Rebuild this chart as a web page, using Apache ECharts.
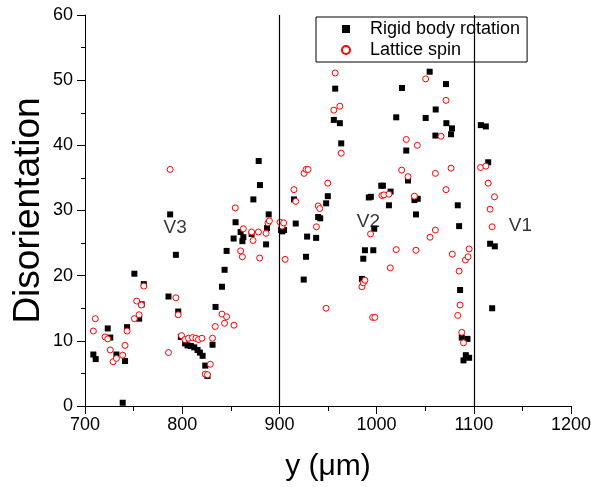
<!DOCTYPE html>
<html>
<head>
<meta charset="utf-8">
<script src="https://cdn.jsdelivr.net/npm/echarts@6/dist/echarts.min.js"></script>
<style>html,body{margin:0;padding:0;background:#fff}#c{width:591px;height:487px}</style>
</head>
<body>
<div id="c"></div>
<script>
// Rigid body rotation: [y (µm), disorientation]
const rigidBody = [[708.6,7.9],[711,7.2],[723.4,11.9],[726,10.5],[732.3,7.9],[741.2,6.9],[738.8,0.5],[743.3,12.1],[750.8,20.3],[755.7,13.4],[760.5,18.7],[758.3,15.6],[785.9,16.8],[787.6,29.4],[793.5,23.2],[795.9,14.5],[798.6,10.6],[803,9.6],[805.5,9.3],[809,9.2],[812.4,9.0],[815.8,8.6],[818.2,8.2],[821,7.7],[823.7,6.2],[826,4.6],[831.2,9.4],[834.3,15.2],[840.9,18.3],[843.6,20.9],[845.7,23.8],[852.9,25.7],[854.9,28.2],[860.1,26.7],[862.9,25.9],[861.9,25.3],[871.4,26.4],[873.2,31.7],[878.7,37.6],[880,33.9],[886.3,24.8],[887.3,27.3],[889,29.4],[901.7,27.0],[903,26.8],[904.8,27.0],[916.8,28.0],[915,31.7],[925,19.4],[927.4,22.9],[928.5,26.0],[937.8,25.8],[939.9,29.0],[942,28.8],[948.1,31.1],[949.8,32.2],[956,43.9],[957.4,48.7],[962.2,43.4],[963.6,40.3],[984.9,19.5],[986.3,22.6],[988,23.9],[992,32.0],[994.1,32.1],[996.6,23.9],[997.6,27.2],[1004.8,33.8],[1006.5,33.8],[1012.7,30.8],[1014.4,32.9],[1020.2,44.3],[1026.1,48.8],[1030.5,39.2],[1032.3,34.6],[1038.9,31.6],[1040.5,29.4],[1042.3,31.8],[1050.5,44.2],[1054.6,51.3],[1060.8,45.5],[1060.5,41.5],[1071.4,49.4],[1071.8,43.4],[1077.6,42.6],[1076.6,41.7],[1083.5,30.8],[1084.9,27.6],[1085.9,17.8],[1087.6,10.5],[1093.5,10.3],[1091.8,7.8],[1095.2,7.4],[1089.4,7.0],[1107.2,43.1],[1112.4,42.9],[1114.8,37.4],[1116.8,24.9],[1121.6,24.5],[1118.9,15.0]];

// Lattice spin: [y (µm), disorientation]
const latticeSpin = [[708.6,11.5],[710.6,13.4],[720.6,10.6],[723.4,10.3],[726,8.6],[728.9,6.8],[732.3,7.3],[738.8,7.8],[741.2,9.3],[743.3,11.5],[750.8,13.4],[753.2,16.1],[755.7,14.0],[758,15.5],[760.5,18.4],[785.9,8.2],[787.6,36.3],[793.5,16.6],[795.9,14.0],[799.3,10.8],[802.8,10.2],[806.5,10.4],[810.6,10.5],[814.1,10.4],[816.8,10.2],[820.3,10.4],[823.7,4.9],[826,4.8],[828.9,6.4],[831.2,10.4],[834,12.2],[840.9,14.1],[843.6,12.7],[845.7,13.7],[853.3,12.4],[854.6,30.4],[860.1,23.8],[861.9,22.9],[862.9,27.2],[871.4,26.7],[872.9,25.4],[878.4,26.7],[879.7,22.7],[886.3,26.5],[888.3,28.1],[889.7,28.4],[900.7,28.2],[902.7,27.6],[904.4,28.1],[905.9,22.5],[915,33.2],[916.8,31.4],[925.4,35.7],[927.4,36.3],[929.5,36.3],[938.1,27.5],[939.9,30.7],[941.5,30.3],[948,15.0],[949.8,34.2],[956,45.4],[957.4,51.1],[962.2,46.0],[963.6,38.8],[984.9,18.3],[986.3,18.9],[988,19.3],[993.8,26.4],[995.9,13.6],[998.2,13.6],[1005.5,32.3],[1007.5,32.4],[1012.7,32.5],[1014.1,21.2],[1020.2,24.0],[1025.8,36.2],[1030.5,40.9],[1032.3,35.2],[1038.9,32.2],[1040.5,23.9],[1041.9,40.0],[1050.5,50.2],[1055,25.9],[1060.5,35.7],[1060.5,27.0],[1066.3,41.4],[1071.4,46.9],[1071.4,33.2],[1076.6,36.5],[1077.9,23.3],[1083.5,13.9],[1084.9,20.7],[1085.9,15.5],[1087.6,11.3],[1089.4,9.7],[1091.4,22.4],[1094.1,22.9],[1095.2,24.1],[1106.9,36.6],[1112.4,36.8],[1114.8,34.2],[1116.8,30.2],[1118.9,27.5],[1121.3,32.1]];

// Vertical boundary lines (x positions)
const boundaries = [900, 1100];

// Region annotations
const regionNames = ['V3', 'V2', 'V1'];
const regionPos = [[792.7, 27.3], [991.5, 28.2], [1148, 27.6]];

const seriesNames = ['Rigid body rotation', 'Lattice spin'];
const xTicks = {min: 700, max: 1200, interval: 100};
const yTicks = {min: 0, max: 60, interval: 10};

const FONT = '"Liberation Sans", Arial, sans-serif';
const chart = echarts.init(document.getElementById('c'), null, {renderer: 'canvas'});

chart.setOption({
  animation: false,
  backgroundColor: '#fff',
  grid: {left: 85, right: 20, top: 15, bottom: 81, containLabel: false, outerBoundsMode: 'none'},
  legend: {
    data: seriesNames,
    orient: 'vertical',
    left: 316, top: 17,
    backgroundColor: '#fff',
    borderColor: '#000',
    borderWidth: 1,
    padding: [3, 7, 3, 25],
    itemGap: 3,
    itemWidth: 8, itemHeight: 8,
    textStyle: {fontFamily: FONT, fontSize: 18, color: '#000', padding: [0, 0, 0, 15]}
  },
  xAxis: {
    type: 'value', min: xTicks.min, max: xTicks.max, interval: xTicks.interval,
    name: 'y (μm)', nameLocation: 'middle', nameGap: 46, nameMoveOverlap: false,
    nameTextStyle: {fontFamily: FONT, fontSize: 30, color: '#000'},
    axisLine: {show: true, onZero: false, lineStyle: {color: '#000', width: 1}},
    axisTick: {show: true, length: 8, lineStyle: {color: '#000'}},
    minorTick: {show: true, splitNumber: 2, length: 5, lineStyle: {color: '#000'}},
    splitLine: {show: false},
    axisLabel: {fontFamily: FONT, fontSize: 18, color: '#000', margin: 10, formatter: v => String(v)}
  },
  yAxis: {
    type: 'value', min: yTicks.min, max: yTicks.max, interval: yTicks.interval,
    name: 'Disorientation', nameLocation: 'middle', nameGap: 38, nameMoveOverlap: false,
    nameTextStyle: {fontFamily: FONT, fontSize: 37, color: '#000'},
    axisLine: {show: true, onZero: false, lineStyle: {color: '#000', width: 1}},
    axisTick: {show: true, length: 8, lineStyle: {color: '#000'}},
    minorTick: {show: true, splitNumber: 2, length: 4, lineStyle: {color: '#000'}},
    splitLine: {show: false},
    axisLabel: {fontFamily: FONT, fontSize: 18, color: '#000', margin: 12, formatter: v => String(v)}
  },
  series: [
    {
      name: seriesNames[0], type: 'scatter', symbol: 'rect', symbolSize: 6,
      itemStyle: {color: '#000', opacity: 1},
      data: rigidBody, z: 3,
      markLine: {
        silent: true, symbol: ['none', 'none'], label: {show: false},
        lineStyle: {color: '#000', width: 1.2, type: 'solid'},
        data: boundaries.map(v => ({xAxis: v}))
      }
    },
    {
      name: seriesNames[1], type: 'scatter', symbol: 'circle', symbolSize: 6,
      itemStyle: {color: '#fff', borderColor: '#f00', borderWidth: 1, opacity: 1},
      data: latticeSpin, z: 4
    },
    {
      name: 'labels', type: 'scatter', symbolSize: 0, silent: true,
      data: regionNames.map((n, i) => ({name: n, value: regionPos[i]})),
      label: {show: true, position: 'inside', formatter: '{b}', fontFamily: FONT, fontSize: 19, color: '#000'}
    }
  ]
});
</script>
</body>
</html>
